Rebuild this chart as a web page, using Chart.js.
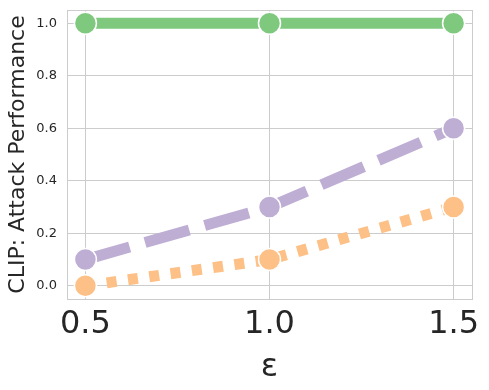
<!DOCTYPE html>
<html>
<head>
<meta charset="utf-8">
<script src="https://cdn.jsdelivr.net/npm/chart.js@4"></script>
<style>
  html, body { margin: 0; padding: 0; background: #fff; }
  #wrap { width: 489px; height: 390px; }
</style>
</head>
<body>
<div id="wrap"><canvas id="c" width="489" height="390"></canvas></div>
<script>
// values
const epsilons = [0.5, 1.0, 1.5];
const greenSeries = [1.0, 1.0, 1.0];
const purpleSeries = [0.1, 0.3, 0.6];
const orangeSeries = [0.0, 0.1, 0.3];
const xTicks = [0.5, 1.0, 1.5];
const yTicks = [0.0, 0.2, 0.4, 0.6, 0.8, 1.0];

const pts = (ys) => epsilons.map((x, i) => ({ x: x, y: ys[i] }));

// box round the plot area, like matplotlib spines
const frame = {
  id: "frame",
  beforeDatasetsDraw(chart) {
    const a = chart.chartArea;
    const ctx = chart.ctx;
    ctx.save();
    ctx.strokeStyle = "#cccccc";
    ctx.lineWidth = 1;
    ctx.strokeRect(a.left + 0.5, a.top + 0.5, a.right - a.left, a.bottom - a.top);
    ctx.restore();
  },
};

function series(data, color, dash) {
  return {
    data: pts(data),
    borderColor: color,
    backgroundColor: color,
    borderWidth: 11,
    borderDash: dash,
    borderCapStyle: "butt",
    pointRadius: 11,
    pointHoverRadius: 11,
    pointBackgroundColor: color,
    pointBorderColor: "#ffffff",
    pointBorderWidth: 1.5,
    tension: 0,
  };
}

new Chart(document.getElementById("c").getContext("2d"), {
  type: "line",
  data: {
    datasets: [
      series(greenSeries, "#7fc97f", []),
      series(purpleSeries, "#beaed4", [46, 16]),
      series(orangeSeries, "#fdc086", [10, 11.5]),
    ],
  },
  options: {
    responsive: false,
    animation: false,
    devicePixelRatio: 1,
    layout: { autoPadding: false, padding: { left: 0, top: 10, right: 17, bottom: 0 } },
    plugins: { legend: { display: false }, tooltip: { enabled: false } },
    scales: {
      x: {
        type: "linear",
        min: 0.45,
        max: 1.55,
        afterBuildTicks: (s) => { s.ticks = xTicks.map((v) => ({ value: v })); },
        afterFit: (s) => { s.height = 91; s.paddingLeft = 0; s.paddingRight = 0; },
        grid: { color: "#cccccc", drawTicks: false },
        border: { color: "#cccccc" },
        ticks: {
          padding: 6,
          color: "#262626",
          font: { family: "DejaVu Sans", size: 32 },
          callback: (v) => v.toFixed(1),
        },
        title: {
          display: true,
          text: "ε",
          color: "#262626",
          font: { family: "DejaVu Sans", size: 32 },
          padding: { top: 0, bottom: 3 },
        },
      },
      y: {
        min: -0.05,
        max: 1.05,
        afterBuildTicks: (s) => { s.ticks = yTicks.map((v) => ({ value: v })); },
        afterFit: (s) => { s.width = 67; s.paddingTop = 0; s.paddingBottom = 0; },
        grid: { color: "#cccccc", drawTicks: false },
        border: { color: "#cccccc" },
        ticks: {
          padding: 10,
          color: "#262626",
          font: { family: "DejaVu Sans", size: 13 },
          callback: (v) => v.toFixed(1),
        },
        title: {
          display: true,
          text: "CLIP: Attack Performance",
          color: "#262626",
          font: { family: "DejaVu Sans", size: 22 },
          padding: { top: 5, bottom: 0 },
        },
      },
    },
  },
  plugins: [frame],
});
</script>
</body>
</html>
